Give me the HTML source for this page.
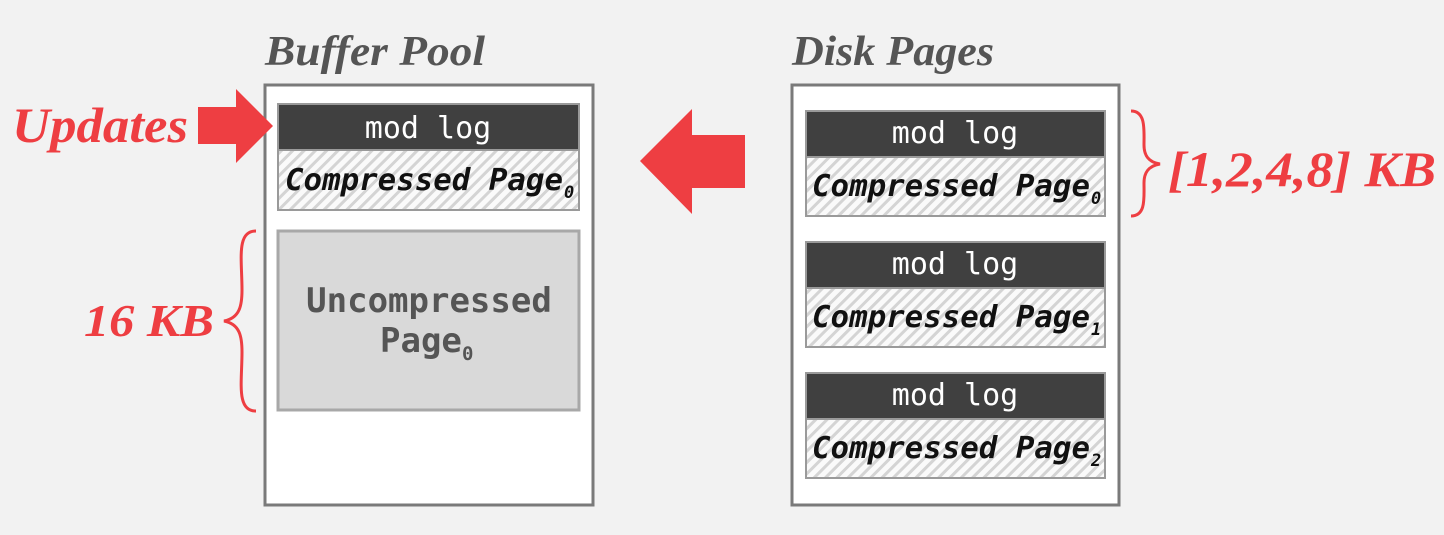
<!DOCTYPE html>
<html><head><meta charset="utf-8"><style>
html,body{margin:0;padding:0;background:#f2f2f2;}
svg{display:block}
.mono{font-family:"DejaVu Sans Mono","Liberation Mono",monospace;}
.ser{font-family:"Liberation Serif",serif;font-style:italic;font-weight:bold;}
</style></head><body>
<svg width="1444" height="535" viewBox="0 0 1444 535" xmlns="http://www.w3.org/2000/svg">
<defs>
<pattern id="h" width="8" height="8" patternUnits="userSpaceOnUse" patternTransform="rotate(45)">
<rect width="8" height="8" fill="#fafafa"/>
<rect width="3" height="8" fill="#d4d4d4"/>
</pattern>
</defs>
<rect width="1444" height="535" fill="#f2f2f2"/>

<!-- titles -->
<text x="265" y="65" class="ser" font-size="42" fill="#555" textLength="220" lengthAdjust="spacingAndGlyphs">Buffer Pool</text>
<text x="792" y="65" class="ser" font-size="42" fill="#555" textLength="202" lengthAdjust="spacingAndGlyphs">Disk Pages</text>

<!-- buffer pool -->
<rect x="265" y="85" width="328" height="420" fill="#fff" stroke="#7a7a7a" stroke-width="3"/>
<rect x="278" y="104" width="301" height="46" fill="#404040" stroke="#9a9a9a" stroke-width="2"/>
<rect x="278" y="150" width="301" height="60" fill="url(#h)" stroke="#9a9a9a" stroke-width="2"/>
<text x="428" y="138" class="mono" font-size="30" fill="#fff" text-anchor="middle">mod log</text>
<text x="285" y="190" class="mono" font-size="30" font-weight="bold" font-style="italic" fill="#111" textLength="278" lengthAdjust="spacingAndGlyphs">Compressed Page</text>
<text x="564" y="198" class="mono" font-size="17" font-weight="bold" font-style="italic" fill="#111">0</text>
<rect x="278" y="231" width="301" height="179" fill="#d9d9d9" stroke="#a8a8a8" stroke-width="3"/>
<text x="429" y="312" class="mono" font-size="34" font-weight="bold" fill="#555" text-anchor="middle">Uncompressed</text>
<text x="380" y="352" class="mono" font-size="34" font-weight="bold" fill="#555">Page</text>
<text x="462" y="360" class="mono" font-size="19" font-weight="bold" fill="#555">0</text>

<!-- updates arrow -->
<text x="12" y="142" class="ser" font-size="50" fill="#ee3e42" textLength="176" lengthAdjust="spacingAndGlyphs">Updates</text>
<polygon points="198,107 236,107 236,89 273,126 236,163 236,144 198,144" fill="#ee3e42"/>

<!-- 16 KB -->
<text x="84" y="336" class="ser" font-size="46" fill="#ee3e42" textLength="130" lengthAdjust="spacingAndGlyphs">16 KB</text>
<path d="M256,231 C236,231 242,260 242,290 C242,305 240,318 224,321 C240,324 242,337 242,352 C242,382 236,411 256,411" fill="none" stroke="#ee3e42" stroke-width="3"/>

<!-- middle arrow -->
<polygon points="745,135 692,135 692,109 640,161 692,214 692,188 745,188" fill="#ee3e42"/>

<!-- disk pages -->
<rect x="792" y="85" width="327" height="420" fill="#fff" stroke="#7a7a7a" stroke-width="3"/>
<g>
<rect x="806" y="111" width="299" height="46" fill="#404040" stroke="#9a9a9a" stroke-width="2"/>
<rect x="806" y="157" width="299" height="59" fill="url(#h)" stroke="#9a9a9a" stroke-width="2"/>
<text x="955" y="143" class="mono" font-size="30" fill="#fff" text-anchor="middle">mod log</text>
<text x="812" y="196" class="mono" font-size="30" font-weight="bold" font-style="italic" fill="#111" textLength="278" lengthAdjust="spacingAndGlyphs">Compressed Page</text>
<text x="1091" y="204" class="mono" font-size="17" font-weight="bold" font-style="italic" fill="#111">0</text>
</g>
<g>
<rect x="806" y="242" width="299" height="46" fill="#404040" stroke="#9a9a9a" stroke-width="2"/>
<rect x="806" y="288" width="299" height="59" fill="url(#h)" stroke="#9a9a9a" stroke-width="2"/>
<text x="955" y="274" class="mono" font-size="30" fill="#fff" text-anchor="middle">mod log</text>
<text x="812" y="327" class="mono" font-size="30" font-weight="bold" font-style="italic" fill="#111" textLength="278" lengthAdjust="spacingAndGlyphs">Compressed Page</text>
<text x="1091" y="335" class="mono" font-size="17" font-weight="bold" font-style="italic" fill="#111">1</text>
</g>
<g>
<rect x="806" y="373" width="299" height="46" fill="#404040" stroke="#9a9a9a" stroke-width="2"/>
<rect x="806" y="419" width="299" height="59" fill="url(#h)" stroke="#9a9a9a" stroke-width="2"/>
<text x="955" y="405" class="mono" font-size="30" fill="#fff" text-anchor="middle">mod log</text>
<text x="812" y="458" class="mono" font-size="30" font-weight="bold" font-style="italic" fill="#111" textLength="278" lengthAdjust="spacingAndGlyphs">Compressed Page</text>
<text x="1091" y="466" class="mono" font-size="17" font-weight="bold" font-style="italic" fill="#111">2</text>
</g>

<!-- right brace -->
<path d="M1131,111 C1146,111 1144,130 1144,145 C1144,155 1148,162 1160,164 C1148,166 1144,173 1144,183 C1144,198 1146,216 1131,216" fill="none" stroke="#ee3e42" stroke-width="3"/>
<text x="1168" y="186" class="ser" font-size="50" fill="#ee3e42" textLength="268" lengthAdjust="spacingAndGlyphs">[1,2,4,8] KB</text>
</svg>
</body></html>
